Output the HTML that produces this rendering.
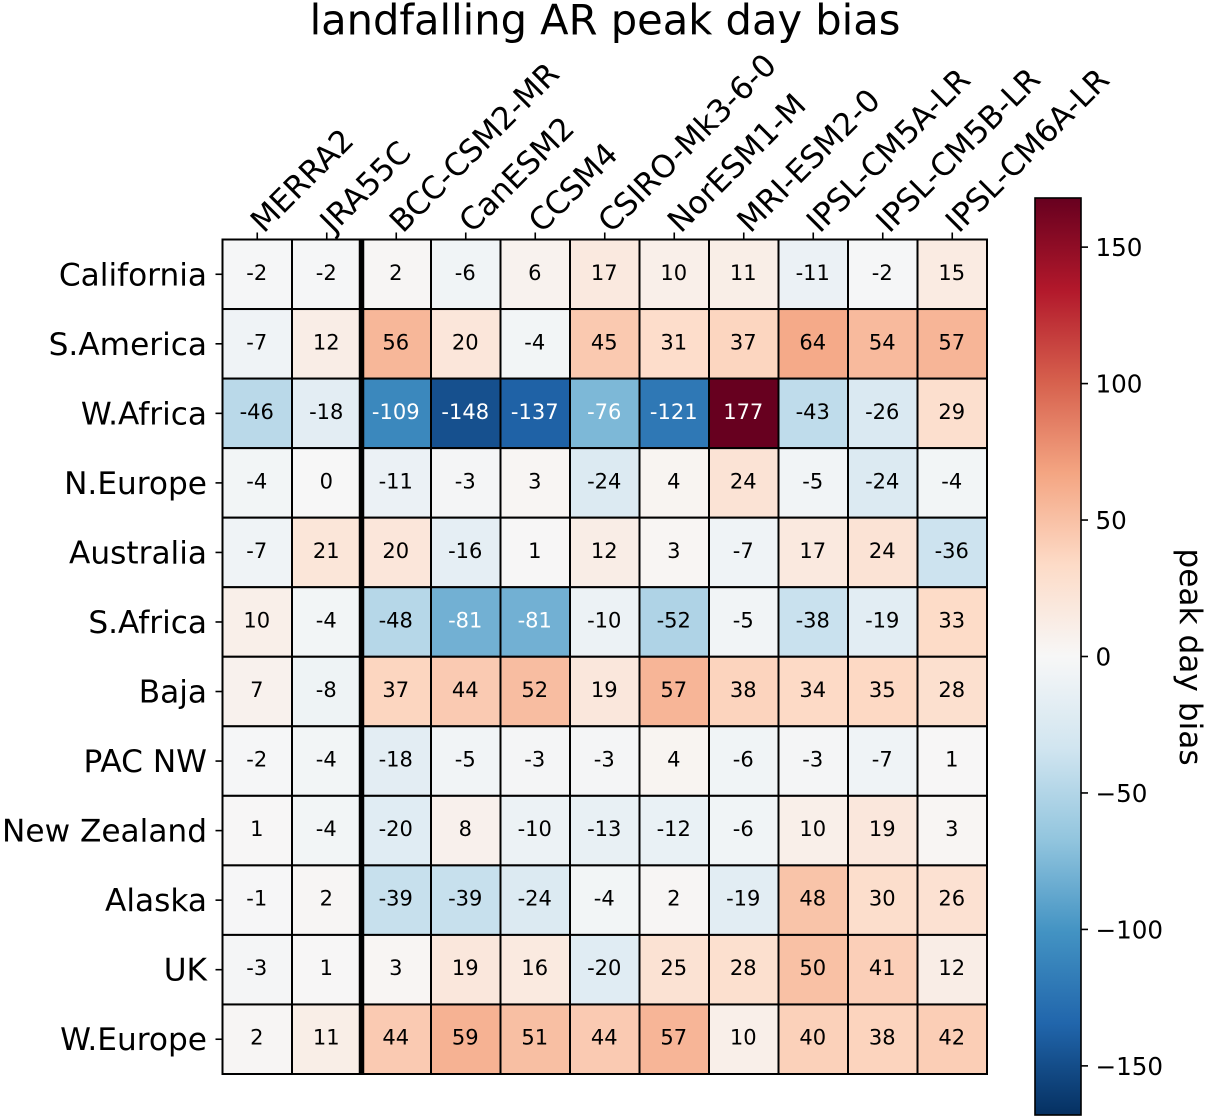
<!DOCTYPE html>
<html lang="en">
<head>
<meta charset="utf-8">
<title>landfalling AR peak day bias</title>
<style>
html,body{margin:0;padding:0;background:#fff;}
body{width:1208px;height:1120px;overflow:hidden;}
svg{display:block;}
text{font-family:"DejaVu Sans","Liberation Sans",sans-serif;fill:#000;}
</style>
</head>
<body>
<svg id="chart" xmlns="http://www.w3.org/2000/svg" width="1208" height="1120" viewBox="0 0 1208 1120">
  <defs>
    <linearGradient id="cbar-gradient" x1="0" y1="1" x2="0" y2="0"></linearGradient>
  </defs>
  <text id="chart-title" x="605" y="34.5" font-size="41.6" text-anchor="middle">landfalling AR peak day bias</text>
  <g id="cells"></g>
  <g id="xticks"></g>
  <g id="yticks"></g>
  <g id="colorbar"></g>
  <text id="cbar-title" font-size="31.2" text-anchor="middle" transform="translate(1180 657) rotate(90)">peak day bias</text>
</svg>
<script>
const models = ["MERRA2","JRA55C","BCC-CSM2-MR","CanESM2","CCSM4","CSIRO-Mk3-6-0","NorESM1-M","MRI-ESM2-0","IPSL-CM5A-LR","IPSL-CM5B-LR","IPSL-CM6A-LR"];
const regions = ["California","S.America","W.Africa","N.Europe","Australia","S.Africa","Baja","PAC NW","New Zealand","Alaska","UK","W.Europe"];
const rowCalifornia = [-2,-2,2,-6,6,17,10,11,-11,-2,15];
const rowSAmerica = [-7,12,56,20,-4,45,31,37,64,54,57];
const rowWAfrica = [-46,-18,-109,-148,-137,-76,-121,177,-43,-26,29];
const rowNEurope = [-4,0,-11,-3,3,-24,4,24,-5,-24,-4];
const rowAustralia = [-7,21,20,-16,1,12,3,-7,17,24,-36];
const rowSAfrica = [10,-4,-48,-81,-81,-10,-52,-5,-38,-19,33];
const rowBaja = [7,-8,37,44,52,19,57,38,34,35,28];
const rowPacNW = [-2,-4,-18,-5,-3,-3,4,-6,-3,-7,1];
const rowNewZealand = [1,-4,-20,8,-10,-13,-12,-6,10,19,3];
const rowAlaska = [-1,2,-39,-39,-24,-4,2,-19,48,30,26];
const rowUK = [-3,1,3,19,16,-20,25,28,50,41,12];
const rowWEurope = [2,11,44,59,51,44,57,10,40,38,42];
const values = [rowCalifornia,rowSAmerica,rowWAfrica,rowNEurope,rowAustralia,rowSAfrica,rowBaja,rowPacNW,rowNewZealand,rowAlaska,rowUK,rowWEurope];
const colorbarTicks = [150,100,50,0,-50,-100,-150];
const colorLimit = 168;
const obsModelSplit = 2;
const rdBuR = ["#053061","#2166ac","#4393c3","#92c5de","#d1e5f0","#f7f7f7","#fddbc7","#f4a582","#d6604d","#b2182b","#67001f"];

const NS = "http://www.w3.org/2000/svg";
const plot = {left:222.5, right:987, top:239.5, bottom:1074};
const cbar = {left:1035, right:1081, top:198, bottom:1115};
const colWidth = (plot.right - plot.left) / models.length;
const rowHeight = (plot.bottom - plot.top) / regions.length;
const xEdge = i => plot.left + i * colWidth;
const yEdge = j => plot.top + j * rowHeight;
const xMid = i => xEdge(i + 0.5);
const yMid = j => yEdge(j + 0.5);
const yCbar = v => (cbar.top + cbar.bottom) / 2 - v * (cbar.bottom - cbar.top) / (2 * colorLimit);

function hexToRgb(h){
  return [parseInt(h.slice(1,3),16),parseInt(h.slice(3,5),16),parseInt(h.slice(5,7),16)];
}
function colorFor(v){
  let t = (v + colorLimit) / (2 * colorLimit);
  t = Math.max(0, Math.min(1, t));
  const p = t * (rdBuR.length - 1);
  const i = Math.min(Math.floor(p), rdBuR.length - 2);
  const f = p - i;
  const a = hexToRgb(rdBuR[i]);
  const b = hexToRgb(rdBuR[i + 1]);
  return "rgb(" + a.map((c, k) => Math.round(c + (b[k] - c) * f)).join(",") + ")";
}
function make(tag, attrs, parent){
  const el = document.createElementNS(NS, tag);
  for (const k in attrs) el.setAttribute(k, attrs[k]);
  parent.appendChild(el);
  return el;
}

const cellsG = document.getElementById("cells");
const xG = document.getElementById("xticks");
const yG = document.getElementById("yticks");
const cbG = document.getElementById("colorbar");

values.forEach((row, j) => {
  row.forEach((v, i) => {
    const rect = make("rect", {x:xEdge(i), y:yEdge(j), width:colWidth, height:rowHeight, fill:colorFor(v), stroke:"#000", "stroke-width":2}, cellsG);
    
    
    const label = make("text", {x:xMid(i) - 0.5, y:yMid(j) + 5.5, "font-size":21, "text-anchor":"middle"}, cellsG);
    
    
    label.style.fill = Math.abs(v) >= 70 ? "#fff" : "#000";
    label.textContent = String(v);
  });
});

const divider = make("line", {x1:xEdge(obsModelSplit), x2:xEdge(obsModelSplit), y1:plot.top, y2:plot.bottom, stroke:"#000", "stroke-width":5.5}, cellsG);



const plotFrame = make("rect", {x:plot.left, y:plot.top, width:plot.right - plot.left, height:plot.bottom - plot.top, fill:"none", stroke:"#000", "stroke-width":2}, cellsG);



models.forEach((name, i) => {
  const x = xMid(i);
  const tick = make("line", {x1:x, x2:x, y1:plot.top, y2:plot.top - 7, stroke:"#000", "stroke-width":1.6}, xG);
  
  
  const label = make("text", {"font-size":31.2, transform:"translate(" + (x + 6.5) + " 234) rotate(-45)"}, xG);
  
  
  label.textContent = name;
});

regions.forEach((name, j) => {
  const y = yMid(j);
  const tick = make("line", {x1:plot.left, x2:plot.left - 7, y1:y, y2:y, stroke:"#000", "stroke-width":1.6}, yG);
  
  
  const label = make("text", {x:207, y:y + 11, "font-size":31.2, "text-anchor":"end"}, yG);
  
  
  label.textContent = name;
});

const gradient = document.getElementById("cbar-gradient");
rdBuR.forEach((c, i) => {
  make("stop", {offset:i / (rdBuR.length - 1), "stop-color":c}, gradient);
});
const cbarBox = make("rect", {x:cbar.left, y:cbar.top, width:cbar.right - cbar.left, height:cbar.bottom - cbar.top, fill:"url(#cbar-gradient)", stroke:"#000", "stroke-width":1.6}, cbG);



colorbarTicks.forEach(v => {
  const y = yCbar(v);
  const tick = make("line", {x1:cbar.right, x2:cbar.right + 7, y1:y, y2:y, stroke:"#000", "stroke-width":1.6}, cbG);
  
  
  const label = make("text", {x:1095.5, y:y + 9, "font-size":24.6}, cbG);
  
  
  label.textContent = String(v).replace("-", "\u2212");
});
</script>
</body>
</html>
